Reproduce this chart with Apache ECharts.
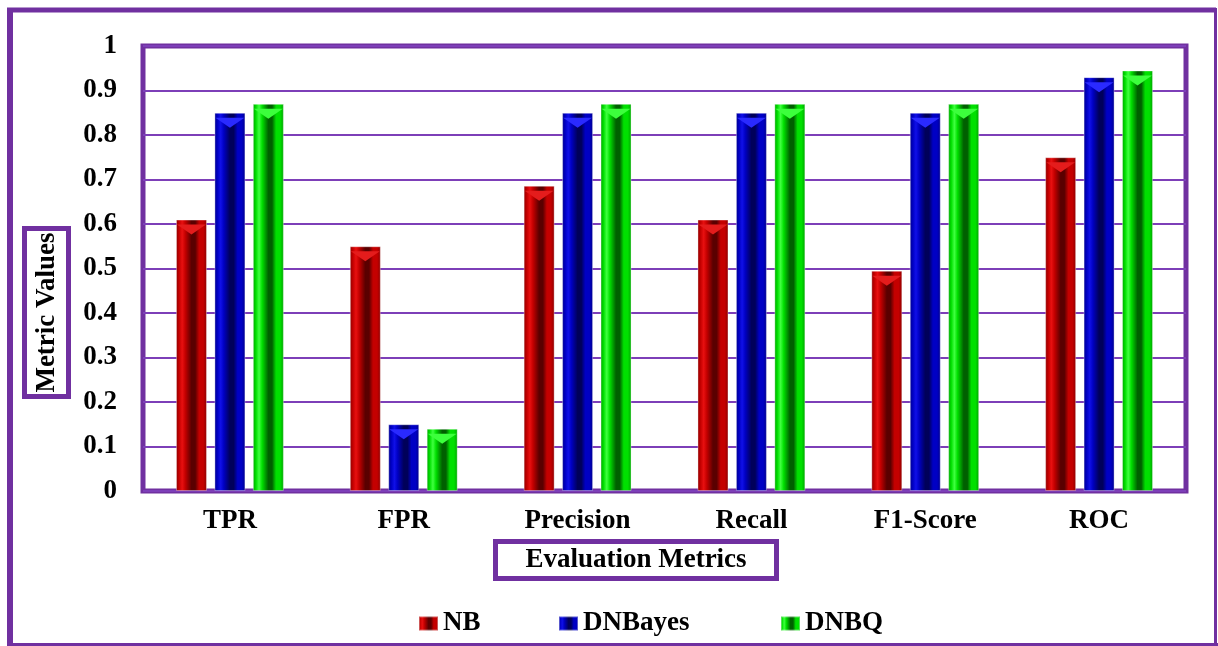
<!DOCTYPE html>
<html>
<head>
<meta charset="utf-8">
<script src="https://cdn.jsdelivr.net/npm/echarts@6/dist/echarts.min.js"></script>
<style>
  html, body { margin: 0; padding: 0; background: #ffffff; }
  #chart { width: 1218px; height: 646px; }
</style>
</head>
<body>
<div id="chart"></div>
<script>
// Evaluation metrics per classifier
const categories = ['TPR', 'FPR', 'Precision', 'Recall', 'F1-Score', 'ROC'];
const nbValues      = [0.61, 0.55, 0.686, 0.61, 0.495, 0.75];
const dnbayesValues = [0.85, 0.15, 0.85, 0.85, 0.85, 0.93];
const dnbqValues    = [0.87, 0.14, 0.87, 0.87, 0.87, 0.945];
const seriesNames   = ['NB', 'DNBayes', 'DNBQ'];

const PURPLE = '#7030A0';
const FONT = '"Liberation Serif", "Times New Roman", serif';

// Horizontal gradient that gives each bar a bevelled, cylindrical look
function bevel(edge, light, mid, dark) {
  return new echarts.graphic.LinearGradient(0, 0, 1, 0, [
    { offset: 0.00, color: edge },
    { offset: 0.10, color: mid },
    { offset: 0.20, color: light },
    { offset: 0.30, color: mid },
    { offset: 0.50, color: dark },
    { offset: 0.62, color: dark },
    { offset: 0.75, color: mid },
    { offset: 0.88, color: mid },
    { offset: 1.00, color: edge }
  ]);
}
const fills = [
  bevel('#8a0000', '#e81010', '#c40000', '#5a0000'),
  bevel('#00008a', '#1010e8', '#0000c4', '#00005a'),
  bevel('#00a000', '#40ff40', '#00e000', '#006000')
];
const capColors = ['#e41c1c', '#2a2aff', '#3cff3c'];
const dataSets = [nbValues, dnbayesValues, dnbqValues];

const BAR_W = 31;
const BAR_GAP = '24%';

const chart = echarts.init(document.getElementById('chart'));

const labelStyle = { fontFamily: FONT, fontWeight: 'bold', fontSize: 27, color: '#000' };

// plain bars
const barSeries = seriesNames.map((name, i) => ({
  name: name,
  type: 'bar',
  data: dataSets[i],
  barWidth: BAR_W,
  barGap: BAR_GAP,
  itemStyle: { color: fills[i], borderColor: 'rgba(255,255,255,0.35)', borderWidth: 1 },
  z: 2
}));
// bevelled cap on top of every bar
const capSeries = seriesNames.map((name, i) => ({
  name: name + ' cap',
  type: 'pictorialBar',
  data: dataSets[i],
  barWidth: BAR_W,
  barGap: BAR_GAP,
  symbol: 'path://M0,0 L10,0 L5,4 Z',
  symbolSize: [BAR_W - 2, 10],
  symbolPosition: 'end',
  symbolOffset: [0, '50%'],
  itemStyle: { color: capColors[i] },
  silent: true,
  z: 3
}));

chart.setOption({
  backgroundColor: '#ffffff',
  animation: false,
  grid: {
    left: 143, top: 46, width: 1043, height: 445,
    show: true, borderColor: PURPLE, borderWidth: 5, backgroundColor: '#ffffff'
  },
  legend: seriesNames.map((name, i) => ({
    data: [name],
    left: [413, 553, 775][i],
    top: 605,
    icon: 'rect',
    itemWidth: 19,
    itemHeight: 14,
    itemGap: 0,
    textStyle: labelStyle,
    selectedMode: false
  })),
  xAxis: {
    type: 'category',
    data: categories,
    axisLine: { show: false },
    axisTick: { show: false },
    axisLabel: Object.assign({ margin: 17 }, labelStyle)
  },
  yAxis: {
    type: 'value',
    min: 0, max: 1, interval: 0.1,
    axisLine: { show: false },
    axisTick: { show: false },
    axisLabel: Object.assign({ margin: 26 }, labelStyle),
    splitLine: { lineStyle: { color: '#7d3fb8', width: 2 } }
  },
  series: barSeries.concat(capSeries),
  graphic: [
    // outer frame
    { type: 'line', shape: { x1: 7, y1: 10, x2: 1216, y2: 10 }, style: { stroke: PURPLE, lineWidth: 5 } },
    { type: 'line', shape: { x1: 10, y1: 8, x2: 10, y2: 646 }, style: { stroke: PURPLE, lineWidth: 6 } },
    { type: 'line', shape: { x1: 1215.5, y1: 8, x2: 1215.5, y2: 646 }, style: { stroke: PURPLE, lineWidth: 3 } },
    { type: 'line', shape: { x1: 8, y1: 644.5, x2: 1218, y2: 644.5 }, style: { stroke: PURPLE, lineWidth: 3 } },
    // y axis title box
    { type: 'rect', shape: { x: 24.5, y: 228.5, width: 44, height: 168 }, style: { fill: '#fff', stroke: PURPLE, lineWidth: 5 } },
    {
      type: 'text', x: 47, y: 312.5, rotation: Math.PI / 2,
      style: { text: 'Metric Values', x: 0, y: 0, align: 'center', verticalAlign: 'middle',
               font: 'bold 27px ' + FONT, fill: '#000' }
    },
    // x axis title box
    { type: 'rect', shape: { x: 495.5, y: 541.5, width: 281, height: 37 }, style: { fill: '#fff', stroke: PURPLE, lineWidth: 5 } },
    {
      type: 'text', x: 636, y: 560,
      style: { text: 'Evaluation Metrics', x: 0, y: 0, align: 'center', verticalAlign: 'middle',
               font: 'bold 27px ' + FONT, fill: '#000' }
    }
  ]
});
</script>
</body>
</html>
